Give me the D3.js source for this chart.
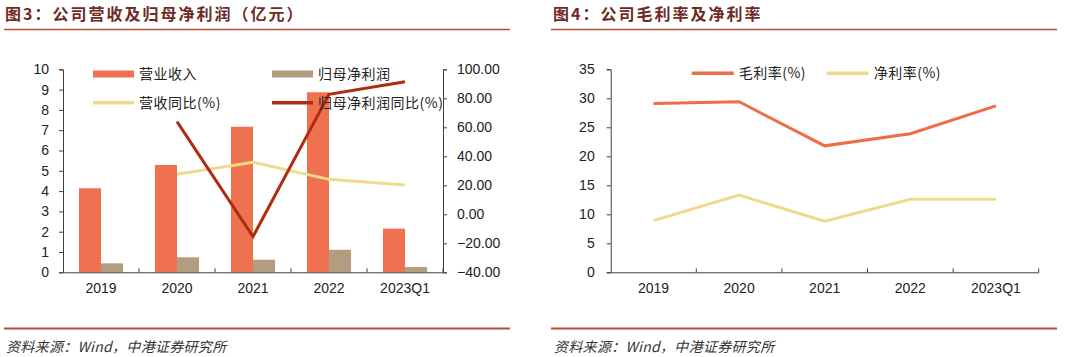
<!DOCTYPE html>
<html><head><meta charset="utf-8">
<script src="https://cdn.jsdelivr.net/npm/d3@7"></script>
<style>
body{margin:0;background:#fff;}
svg{display:block;}
</style></head>
<body>
<svg id="c" width="1080" height="357"></svg>
<script>
const categories = ["2019","2020","2021","2022","2023Q1"];
const revenue = [4.14, 5.29, 7.17, 8.87, 2.15];
const netProfit = [0.44, 0.74, 0.62, 1.11, 0.26];
const revenueYoY = [null, 27.6, 35.9, 24.1, 20.2];
const netProfitYoY = [null, 63.9, -15.4, 82.7, 91.4];
const leftTicks = [0,1,2,3,4,5,6,7,8,9,10];
const rightTicks = [-40,-20,0,20,40,60,80,100];
const grossMargin = [29.1, 29.4, 21.8, 23.9, 28.7];
const netMargin = [8.9, 13.3, 8.8, 12.6, 12.6];
const marginTicks = [0,5,10,15,20,25,30,35];
const titles = ["图3：公司营收及归母净利润（亿元）", "图4：公司毛利率及净利率"];
const source = "资料来源：Wind，中港证券研究所";

const C = {rev:"#ef7150", np:"#b29d80", revY:"#f3d98d", npY:"#ae2d12", gm:"#ee6c46", nm:"#f2d98a",
  title:"#6e2a25", rule:"#bd4a36", axis:"#404040", text:"#222"};
const FONT = "'Liberation Sans', Arial, sans-serif";
const CJK = "'Noto Sans CJK SC', sans-serif";

const svg = d3.select("#c");

// Titles, rules, footers
[[5, 4, 510], [553, 551, 1057]].forEach(([tx, x1, x2], i) => {
  svg.append("text").attr("x", tx).attr("y", 20).text(titles[i])
    .attr("font-family", CJK).attr("font-weight", "bold").attr("font-size", 16)
    .attr("letter-spacing", 2).attr("fill", C.title);
  svg.append("line").attr("x1", x1).attr("x2", x2).attr("y1", 29.5).attr("y2", 29.5)
    .attr("stroke", C.rule).attr("stroke-width", 1.5);
  svg.append("line").attr("x1", x1).attr("x2", x2).attr("y1", 328.5).attr("y2", 328.5)
    .attr("stroke", C.rule).attr("stroke-width", 2);
  svg.append("text").attr("x", tx + 1).attr("y", 352).text(source)
    .attr("font-family", CJK).attr("font-style", "italic").attr("font-size", 14)
    .attr("letter-spacing", 0.3).attr("fill", "#333");
});

function styleAxis(g){
  g.select(".domain").attr("stroke", C.axis).attr("stroke-width", 1);
  g.selectAll(".tick line").attr("stroke", C.axis).attr("stroke-width", 1);
  g.selectAll(".tick text").attr("font-family", FONT).attr("font-size", 14).attr("fill", C.text);
}

function bottomAxis(g, x, y0) {
  const ax = g.append("g").attr("transform", `translate(0,${y0})`)
    .call(d3.axisBottom(x).tickSize(0).tickPadding(11));
  styleAxis(ax);
  const bounds = categories.map(c => x(c)).concat([x.range()[1]]);
  g.append("g").selectAll("line").data(bounds.slice(1)).join("line")
    .attr("x1", d => d).attr("x2", d => d).attr("y1", y0).attr("y2", y0 - 4)
    .attr("stroke", C.axis).attr("stroke-width", 1);
}

// ---------- Left chart ----------
{
  const g = svg.append("g");
  const x = d3.scaleBand().domain(categories).range([63, 443]).padding(0);
  const yL = d3.scaleLinear().domain([0, 10]).range([272.3, 69.3]);
  const yR = d3.scaleLinear().domain([-40, 100]).range([272.3, 69.3]);
  const bw = x.bandwidth() * 0.29;
  const cx = c => x(c) + x.bandwidth() / 2;

  g.selectAll(".rev").data(categories).join("rect")
    .attr("x", c => cx(c) - bw).attr("width", bw)
    .attr("y", (c, i) => yL(revenue[i])).attr("height", (c, i) => yL(0) - yL(revenue[i]))
    .attr("fill", C.rev);
  g.selectAll(".np").data(categories).join("rect")
    .attr("x", c => cx(c)).attr("width", bw)
    .attr("y", (c, i) => yL(netProfit[i])).attr("height", (c, i) => yL(0) - yL(netProfit[i]))
    .attr("fill", C.np);

  const line = d3.line().defined(d => d[1] != null).x(d => cx(d[0])).y(d => yR(d[1]));
  g.append("path").datum(categories.map((c, i) => [c, revenueYoY[i]]))
    .attr("d", line).attr("fill", "none").attr("stroke", C.revY).attr("stroke-width", 3);
  g.append("path").datum(categories.map((c, i) => [c, netProfitYoY[i]]))
    .attr("d", line).attr("fill", "none").attr("stroke", C.npY).attr("stroke-width", 3);

  const la = g.append("g").attr("transform", "translate(63,0)")
    .call(d3.axisLeft(yL).tickValues(leftTicks).tickSize(4).tickPadding(10).tickFormat(d3.format("d")));
  styleAxis(la);
  const ra = g.append("g").attr("transform", "translate(443,0)")
    .call(d3.axisRight(yR).tickValues(rightTicks).tickSize(4).tickPadding(10).tickFormat(d3.format(".2f")));
  styleAxis(ra);
  bottomAxis(g, x, 272.3);

  // legend
  const leg = [
    {x: 93, y: 74, t: "营业收入", type: "rect", c: C.rev},
    {x: 272, y: 74, t: "归母净利润", type: "rect", c: C.np},
    {x: 93, y: 102.7, t: "营收同比(%)", type: "line", c: C.revY},
    {x: 272, y: 102.7, t: "归母净利润同比(%)", type: "line", c: C.npY}
  ];
  leg.forEach(l => {
    if (l.type === "rect") g.append("rect").attr("x", l.x).attr("y", l.y - 3.5).attr("width", 41).attr("height", 7).attr("fill", l.c);
    else g.append("line").attr("x1", l.x).attr("x2", l.x + 41).attr("y1", l.y).attr("y2", l.y).attr("stroke", l.c).attr("stroke-width", 3.5);
    g.append("text").attr("x", l.x + 46).attr("y", l.y + 5).text(l.t)
      .attr("font-family", CJK).attr("font-size", 14).attr("letter-spacing", 0.5).attr("fill", C.text);
  });
}

// ---------- Right chart ----------
{
  const g = svg.append("g");
  const x = d3.scaleBand().domain(categories).range([610.7, 1038.7]).padding(0);
  const y = d3.scaleLinear().domain([0, 35]).range([272.3, 69.3]);
  const cx = c => x(c) + x.bandwidth() / 2;
  const line = d3.line().x(d => cx(d[0])).y(d => y(d[1]));
  g.append("path").datum(categories.map((c, i) => [c, grossMargin[i]]))
    .attr("d", line).attr("fill", "none").attr("stroke", C.gm).attr("stroke-width", 3);
  g.append("path").datum(categories.map((c, i) => [c, netMargin[i]]))
    .attr("d", line).attr("fill", "none").attr("stroke", C.nm).attr("stroke-width", 3);

  const la = g.append("g").attr("transform", "translate(610.7,0)")
    .call(d3.axisLeft(y).tickValues(marginTicks).tickSize(4).tickPadding(12).tickFormat(d3.format("d")));
  styleAxis(la);
  bottomAxis(g, x, 272.3);

  const leg = [
    {x: 691.7, y: 73.3, t: "毛利率(%)", c: C.gm},
    {x: 826.7, y: 73.3, t: "净利率(%)", c: C.nm}
  ];
  leg.forEach(l => {
    g.append("line").attr("x1", l.x).attr("x2", l.x + 42).attr("y1", l.y).attr("y2", l.y).attr("stroke", l.c).attr("stroke-width", 3.5);
    g.append("text").attr("x", l.x + 47).attr("y", l.y + 5).text(l.t)
      .attr("font-family", CJK).attr("font-size", 14).attr("letter-spacing", 0.5).attr("fill", C.text);
  });
}
</script>
</body></html>
